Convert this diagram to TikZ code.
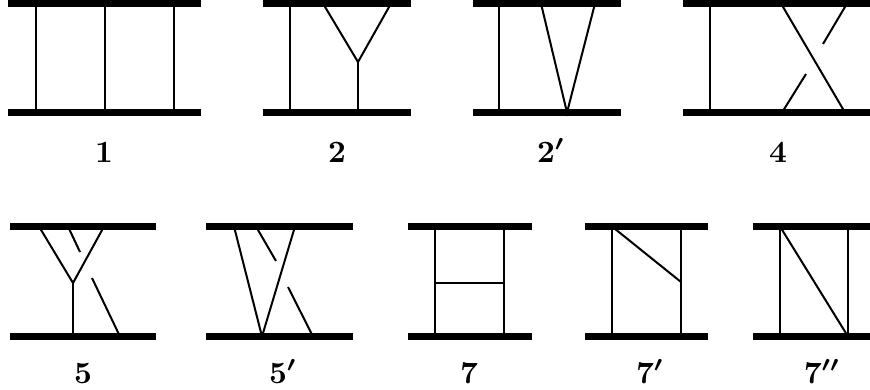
\documentclass[tikz,border=0pt]{standalone}
\usepackage{amsmath}
\usepackage{amssymb}
\usetikzlibrary{positioning}

\tikzset{rail/.style={line width=6.5pt},
  leg/.style={line width=2pt},
  lbl/.style={anchor=base, inner sep=0pt, scale=3.1, font=\boldmath}}

\begin{document}
\begin{tikzpicture}[x=1pt, y=-1pt]
  \useasboundingbox (0,0) rectangle (870,389);
  % top row
  \coordinate (a1) at (8,3.5);   \coordinate (a2) at (201,3.5);
  \coordinate (a3) at (8,112.5); \coordinate (a4) at (201,112.5);
  \draw[rail] (a1) -- (a2);
  \draw[rail] (a3) -- (a4);
  \draw[leg] (36,3.5) -- (36,112.5);
  \draw[leg] (105,3.5) -- (105,112.5);
  \draw[leg] (174,3.5) -- (174,112.5);
  \node[lbl] (l1) at (104,162) {$\mathbf{1}$};

  \coordinate (b1) at (263,3.5);   \coordinate (b2) at (411,3.5);
  \coordinate (b3) at (263,112.5); \coordinate (b4) at (411,112.5);
  \coordinate (bv) at (358,62);
  \draw[rail] (b1) -- (b2);
  \draw[rail] (b3) -- (b4);
  \draw[leg] (290,3.5) -- (290,112.5);
  \draw[leg] (323,3.5) -- (bv) -- (391,3.5);
  \draw[leg] (bv) -- (358,112.5);
  \node[lbl] (l2) at (337,162) {$\mathbf{2}$};

  \coordinate (c1) at (473,3.5);   \coordinate (c2) at (621,3.5);
  \coordinate (c3) at (473,112.5); \coordinate (c4) at (621,112.5);
  \coordinate (cv) at (567,112.5);
  \draw[rail] (c1) -- (c2);
  \draw[rail] (c3) -- (c4);
  \draw[leg] (499,3.5) -- (499,112.5);
  \draw[leg] (541,3.5) -- (cv) -- (595,3.5);
  \node[lbl] (l2p) at (551,162) {$\mathbf{2}'$};

  \coordinate (d1) at (683,3.5);   \coordinate (d2) at (870,3.5);
  \coordinate (d3) at (683,112.5); \coordinate (d4) at (870,112.5);
  \draw[rail] (d1) -- (d2);
  \draw[rail] (d3) -- (d4);
  \draw[leg] (710,3.5) -- (710,112.5);
  \draw[leg] (781,3.5) -- (845,112.5);
  \draw[leg] (782,112.5) -- (806,74);
  \draw[leg] (823,44) -- (847,3.5);
  \node[lbl] (l4) at (778,162) {$\mathbf{4}$};

  % bottom row
  \coordinate (e1) at (10,226.5);  \coordinate (e2) at (156,226.5);
  \coordinate (e3) at (10,336.5);  \coordinate (e4) at (156,336.5);
  \coordinate (ev) at (73,283);
  \draw[rail] (e1) -- (e2);
  \draw[rail] (e3) -- (e4);
  \draw[leg] (39,226.5) -- (ev) -- (104,226.5);
  \draw[leg] (ev) -- (73,336.5);
  \draw[leg] (68,226.5) -- (80,252);
  \draw[leg] (92,278) -- (120,336.5);
  \node[lbl] (l5) at (83,383) {$\mathbf{5}$};

  \coordinate (f1) at (206,226.5); \coordinate (f2) at (353,226.5);
  \coordinate (f3) at (206,336.5); \coordinate (f4) at (353,336.5);
  \coordinate (fv) at (262,336.5);
  \draw[rail] (f1) -- (f2);
  \draw[rail] (f3) -- (f4);
  \draw[leg] (234,226.5) -- (fv) -- (295,226.5);
  \draw[leg] (256,226.5) -- (276,261);
  \draw[leg] (288,287) -- (313,336.5);
  \node[lbl] (l5p) at (283,383) {$\mathbf{5}'$};

  \coordinate (g1) at (408,226.5); \coordinate (g2) at (532,226.5);
  \coordinate (g3) at (408,336.5); \coordinate (g4) at (532,336.5);
  \coordinate (gl) at (435,283);   \coordinate (gr) at (504,283);
  \draw[rail] (g1) -- (g2);
  \draw[rail] (g3) -- (g4);
  \draw[leg] (435,226.5) -- (435,336.5);
  \draw[leg] (504,226.5) -- (504,336.5);
  \draw[leg] (gl) -- (gr);
  \node[lbl] (l7) at (469,383) {$\mathbf{7}$};

  \coordinate (h1) at (585,226.5); \coordinate (h2) at (708,226.5);
  \coordinate (h3) at (585,336.5); \coordinate (h4) at (708,336.5);
  \coordinate (hv) at (681,282);
  \draw[rail] (h1) -- (h2);
  \draw[rail] (h3) -- (h4);
  \draw[leg] (612,226.5) -- (612,336.5);
  \draw[leg] (681,226.5) -- (681,336.5);
  \draw[leg] (612,226.5) -- (hv);
  \node[lbl] (l7p) at (650,383) {$\mathbf{7}'$};

  \coordinate (k1) at (753,226.5); \coordinate (k2) at (870,226.5);
  \coordinate (k3) at (753,336.5); \coordinate (k4) at (870,336.5);
  \draw[rail] (k1) -- (k2);
  \draw[rail] (k3) -- (k4);
  \draw[leg] (780,226.5) -- (780,336.5);
  \draw[leg] (848,226.5) -- (848,336.5);
  \draw[leg] (780,226.5) -- (848,336.5);
  \node[lbl] (l7pp) at (822,383) {$\mathbf{7}''$};
\end{tikzpicture}
\end{document}
